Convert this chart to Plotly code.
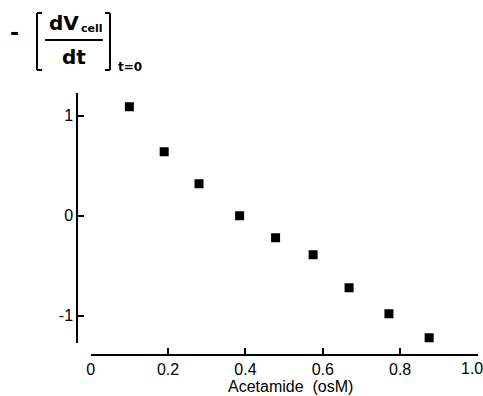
import plotly.graph_objects as go

# Data
acetamide = [0.10, 0.19, 0.28, 0.385, 0.478, 0.575, 0.668, 0.771, 0.875]
rate = [1.09, 0.64, 0.32, 0.0, -0.22, -0.39, -0.72, -0.98, -1.22]

x_ticks = [0, 0.2, 0.4, 0.6, 0.8, 1.0]
x_ticktext = ["0", "0.2", "0.4", "0.6", "0.8", "1.0"]
y_ticks = [-1, 0, 1]
y_ticktext = ["-1", "0", "1"]

W, H = 483, 396
ML, MR, MT, MB = 70, 4, 85, 36
PW = W - ML - MR
PH = H - MT - MB


def fx(px):
    return (px - ML) / PW


def fy(py):
    return (H - MB - py) / PH


FONT = "Liberation Sans, Arial, sans-serif"
TFONT = "DejaVu Sans, Verdana, sans-serif"

fig = go.Figure()
fig.add_trace(go.Scatter(
    x=acetamide, y=rate, mode="markers",
    marker=dict(symbol="square", size=9, color="black"),
    showlegend=False, hoverinfo="skip",
))

# the last x tick label sits at the page edge; draw it as an annotation
# nudged left so it is not clipped
axis_ticktext = x_ticktext[:-1] + [""]

fig.update_layout(
    width=W, height=H,
    margin=dict(l=ML, r=MR, t=MT, b=MB, autoexpand=False),
    paper_bgcolor="white", plot_bgcolor="white",
    font=dict(family=FONT, color="black", size=16),
    xaxis=dict(
        domain=[fx(90.7), fx(477.5)], range=[0, 1.0],
        anchor="free", position=fy(355), automargin=False,
        showline=True, linecolor="black", linewidth=2,
        ticks="inside", ticklen=6, tickwidth=2, tickcolor="black",
        tickvals=x_ticks, ticktext=axis_ticktext,
        showgrid=False, zeroline=False,
        tickfont=dict(size=16),
    ),
    yaxis=dict(
        domain=[fy(343), fy(93)], range=[-1.273, 1.227],
        anchor="free", position=fx(77.3), automargin=False,
        showline=True, linecolor="black", linewidth=2,
        ticks="inside", ticklen=6, tickwidth=2, tickcolor="black",
        tickvals=y_ticks, ticktext=y_ticktext,
        showgrid=False, zeroline=False,
        tickfont=dict(size=16),
    ),
)

fig.add_annotation(
    text=x_ticktext[-1], x=x_ticks[-1], xref="x", y=fy(368), yref="paper",
    showarrow=False, xanchor="center", yanchor="middle", xshift=-6,
    font=dict(family=FONT, size=16, color="black"),
)

# x-axis title
fig.add_annotation(
    text="Acetamide  (osM)", x=fx(290), y=fy(386), xref="paper", yref="paper",
    showarrow=False, xanchor="center", yanchor="middle",
    font=dict(family=FONT, size=16, color="black"),
)

# Y-axis label: - [ dV_cell / dt ]_{t=0}
ann = [
    dict(text="<b>-</b>", x=14.5, y=33, size=22),
    dict(text="<b>dV</b>", x=63.5, y=23, size=20),
    dict(text="<b>cell</b>", x=91.5, y=28, size=11),
    dict(text="<b>dt</b>", x=73.5, y=57, size=20),
    dict(text="<b>t=0</b>", x=129.5, y=67, size=12),
]
for a in ann:
    fig.add_annotation(
        text=a["text"], x=fx(a["x"]), y=fy(a["y"]), xref="paper", yref="paper",
        showarrow=False, xanchor="center", yanchor="middle",
        font=dict(family=TFONT, size=a["size"], color="black"),
    )

line = dict(color="black", width=2)
shapes = [
    # fraction bar
    (45, 40, 103, 40),
    # left bracket
    (37, 13, 37, 70), (37, 13, 42, 13), (37, 70, 42, 70),
    # right bracket
    (110, 13, 110, 70), (105, 13, 110, 13), (105, 70, 110, 70),
]
for x0, y0, x1, y1 in shapes:
    fig.add_shape(type="line", xref="paper", yref="paper",
                  x0=fx(x0), y0=fy(y0), x1=fx(x1), y1=fy(y1), line=line)

fig.write_html(
    "out.html",
    config={"displayModeBar": False},
    post_script="document.body.style.margin='0';document.body.style.overflow='hidden';",
)
